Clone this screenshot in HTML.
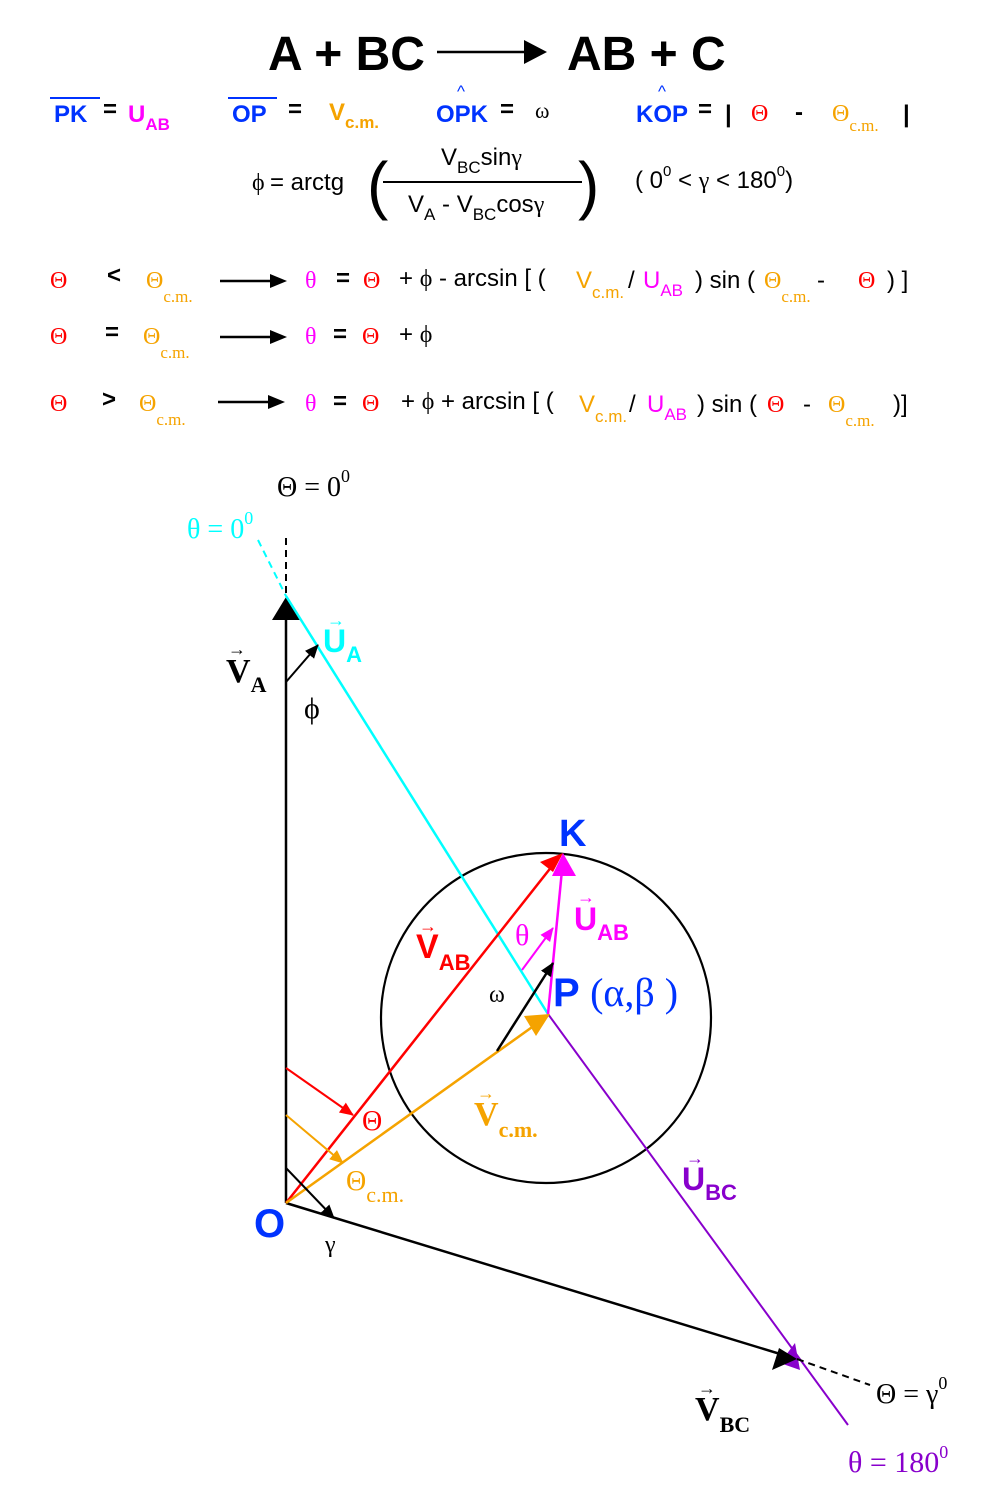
<!DOCTYPE html>
<html><head><meta charset="utf-8"><style>
html,body{margin:0;padding:0;background:#fff}
svg{display:block}
.s{font-family:"Liberation Sans",sans-serif}
.r{font-family:"Liberation Serif",serif}
</style></head><body>
<svg width="1000" height="1492" viewBox="0 0 1000 1492" xmlns="http://www.w3.org/2000/svg">
<defs>
<marker id="ak" markerWidth="10" markerHeight="10" refX="9" refY="5" orient="auto" markerUnits="userSpaceOnUse"><path d="M0,0 L10,5 L0,10 Z" fill="#000"/></marker>
<marker id="ar" markerWidth="14" markerHeight="14" refX="13" refY="7" orient="auto" markerUnits="userSpaceOnUse"><path d="M0,1 L14,7 L0,13 Z" fill="#f00"/></marker>
<marker id="ao" markerWidth="14" markerHeight="14" refX="13" refY="7" orient="auto" markerUnits="userSpaceOnUse"><path d="M0,1 L14,7 L0,13 Z" fill="#f5a300"/></marker>
<marker id="am" markerWidth="14" markerHeight="14" refX="13" refY="7" orient="auto" markerUnits="userSpaceOnUse"><path d="M0,1 L14,7 L0,13 Z" fill="#f0f"/></marker>
<marker id="ab" markerWidth="14" markerHeight="14" refX="13" refY="7" orient="auto" markerUnits="userSpaceOnUse"><path d="M0,1 L14,7 L0,13 Z" fill="#000"/></marker>
</defs>

<!-- title -->
<g class="s" font-weight="bold" font-size="48" fill="#000">
<text x="268" y="70">A + BC</text>
<text x="567" y="70">AB + C</text>
</g>
<line x1="437" y1="52" x2="525" y2="52" stroke="#000" stroke-width="2.5"/>
<path d="M524,40 L547,52 L524,64 Z" fill="#000"/>

<!-- row 1 -->
<g class="s" font-weight="bold" font-size="24">
<line x1="50" y1="98" x2="100" y2="98" stroke="#0033ff" stroke-width="2"/>
<text x="54" y="122" fill="#0033ff">PK</text>
<text x="103" y="117" fill="#000">=</text>
<text x="128" y="122" fill="#f0f">U<tspan font-size="17" dy="8">AB</tspan></text>
<line x1="228" y1="98" x2="277" y2="98" stroke="#0033ff" stroke-width="2"/>
<text x="232" y="122" fill="#0033ff">OP</text>
<text x="288" y="117" fill="#000">=</text>
<text x="329" y="120" fill="#f5a300">V<tspan font-size="17" dy="8">c.m.</tspan></text>
<text x="457" y="97" fill="#0033ff" font-size="17" font-weight="normal">^</text>
<text x="436" y="122" fill="#0033ff">OPK</text>
<text x="500" y="117" fill="#000">=</text>
<text x="658" y="97" fill="#0033ff" font-size="17" font-weight="normal">^</text>
<text x="636" y="122" fill="#0033ff">KOP</text>
<text x="698" y="117" fill="#000">=</text>
<text x="725" y="122" fill="#000">|</text>
<text x="795" y="120" fill="#000">-</text>
<text x="903" y="122" fill="#000">|</text>
</g>
<text class="r" x="535" y="118" font-size="22">ω</text>
<text class="r" x="751" y="121" font-size="24" fill="#f00">Θ</text>
<text class="r" x="832" y="121" font-size="24" fill="#f5a300">Θ<tspan font-size="17" dy="10">c.m.</tspan></text>

<!-- phi formula -->
<text class="r" x="252" y="190" font-size="24">ϕ</text>
<text class="s" x="270" y="190" font-size="24">= arctg</text>
<text class="s" x="367" y="207" font-size="64" font-weight="300">(</text>
<text class="s" x="578" y="207" font-size="64" font-weight="300">)</text>
<line x1="383" y1="182" x2="582" y2="182" stroke="#000" stroke-width="2"/>
<text class="s" x="441" y="165" font-size="24">V<tspan font-size="17" dy="8">BC</tspan><tspan dy="-8">sin</tspan><tspan class="r">γ</tspan></text>
<text class="s" x="408" y="212" font-size="24">V<tspan font-size="17" dy="8">A</tspan><tspan dy="-8"> - V</tspan><tspan font-size="17" dy="8">BC</tspan><tspan dy="-8">cos</tspan><tspan class="r">γ</tspan></text>
<text class="s" x="635" y="188" font-size="24">( 0<tspan font-size="15" dy="-12">0</tspan><tspan dy="12"> &lt; </tspan><tspan class="r">γ</tspan> &lt; 180<tspan font-size="15" dy="-12">0</tspan><tspan dy="12">)</tspan></text>

<!-- conditions -->
<g font-size="24">
<!-- row a -->
<text class="r" x="50" y="288" fill="#f00">Θ</text>
<text class="s" x="107" y="283" font-weight="bold">&lt;</text>
<text class="r" x="146" y="288" fill="#f5a300">Θ<tspan font-size="17" dy="14">c.m.</tspan></text>
<text class="r" x="305" y="288" fill="#f0f">θ</text>
<text class="s" x="336" y="286" font-weight="bold">=</text>
<text class="r" x="363" y="288" fill="#f00">Θ</text>
<text class="s" x="399" y="286">+ <tspan class="r">ϕ</tspan> - arcsin  [ (</text>
<text class="s" x="576" y="288" fill="#f5a300">V<tspan font-size="17" dy="10">c.m.</tspan></text>
<text class="s" x="628" y="288">/</text>
<text class="s" x="643" y="288" fill="#f0f">U<tspan font-size="17" dy="8">AB</tspan></text>
<text class="s" x="695" y="288">) sin (</text>
<text class="r" x="764" y="288" fill="#f5a300">Θ<tspan font-size="17" dy="14">c.m.</tspan></text>
<text class="s" x="817" y="288">-</text>
<text class="r" x="858" y="288" fill="#f00">Θ</text>
<text class="s" x="887" y="288">) ]</text>
<!-- row b -->
<text class="r" x="50" y="344" fill="#f00">Θ</text>
<text class="s" x="105" y="340" font-weight="bold">=</text>
<text class="r" x="143" y="344" fill="#f5a300">Θ<tspan font-size="17" dy="14">c.m.</tspan></text>
<text class="r" x="305" y="344" fill="#f0f">θ</text>
<text class="s" x="333" y="342" font-weight="bold">=</text>
<text class="r" x="362" y="344" fill="#f00">Θ</text>
<text class="s" x="399" y="342">+ <tspan class="r">ϕ</tspan></text>
<!-- row c -->
<text class="r" x="50" y="411" fill="#f00">Θ</text>
<text class="s" x="102" y="407" font-weight="bold">&gt;</text>
<text class="r" x="139" y="411" fill="#f5a300">Θ<tspan font-size="17" dy="14">c.m.</tspan></text>
<text class="r" x="305" y="411" fill="#f0f">θ</text>
<text class="s" x="333" y="409" font-weight="bold">=</text>
<text class="r" x="362" y="411" fill="#f00">Θ</text>
<text class="s" x="401" y="409">+ <tspan class="r">ϕ</tspan> + arcsin  [ (</text>
<text class="s" x="579" y="412" fill="#f5a300">V<tspan font-size="17" dy="10">c.m.</tspan></text>
<text class="s" x="629" y="412">/</text>
<text class="s" x="647" y="412" fill="#f0f">U<tspan font-size="17" dy="8">AB</tspan></text>
<text class="s" x="697" y="412">) sin (</text>
<text class="r" x="767" y="412" fill="#f00">Θ</text>
<text class="s" x="803" y="412">-</text>
<text class="r" x="828" y="412" fill="#f5a300">Θ<tspan font-size="17" dy="14">c.m.</tspan></text>
<text class="s" x="893" y="412">)]</text>
</g>
<g stroke="#000" stroke-width="2.5">
<line x1="220" y1="281" x2="274" y2="281"/><line x1="220" y1="337" x2="274" y2="337"/><line x1="218" y1="402" x2="272" y2="402"/>
</g>
<g fill="#000"><path d="M270,274 L287,281 L270,288 Z"/><path d="M270,330 L287,337 L270,344 Z"/><path d="M268,395 L285,402 L268,409 Z"/></g>

<!-- diagram -->
<circle cx="546" cy="1018" r="165" fill="none" stroke="#000" stroke-width="2.2"/>
<line x1="286" y1="538" x2="286" y2="598" stroke="#000" stroke-width="2" stroke-dasharray="7,5"/>
<line x1="286" y1="1203" x2="286" y2="600" stroke="#000" stroke-width="2.5"/>
<path d="M286,597 L272,620 L300,620 Z" fill="#000"/>
<line x1="258" y1="540" x2="286" y2="596" stroke="#0ff" stroke-width="2" stroke-dasharray="7,5"/>
<line x1="286" y1="596" x2="548" y2="1014" stroke="#0ff" stroke-width="2.5"/>
<line x1="548" y1="1014" x2="848" y2="1425" stroke="#8800cc" stroke-width="2"/>
<path d="M795,1343 L800,1370 L780,1363 Z" fill="#8800cc"/>
<line x1="286" y1="1203" x2="790" y2="1357" stroke="#000" stroke-width="2.5"/>
<path d="M797,1359 L772,1370 L779,1348 Z" fill="#000"/>
<line x1="797" y1="1359" x2="870" y2="1385" stroke="#000" stroke-width="2" stroke-dasharray="7,5"/>
<!-- vectors -->
<line x1="286" y1="1203" x2="560" y2="856" stroke="#f00" stroke-width="2.5"/>
<path d="M563,853 L540,862 L553,872 Z" fill="#f00"/>
<line x1="286" y1="1203" x2="535" y2="1025" stroke="#f5a300" stroke-width="2.5"/>
<path d="M550,1014 L524,1016 L536,1036 Z" fill="#f5a300"/>
<line x1="548" y1="1014" x2="562" y2="870" stroke="#f0f" stroke-width="2.5"/>
<path d="M563,853 L552,876 L576,876 Z" fill="#f0f"/>
<!-- small arrows -->
<line x1="286" y1="682" x2="318" y2="645" stroke="#000" stroke-width="2" marker-end="url(#ab)"/>
<line x1="497" y1="1051" x2="553" y2="963" stroke="#000" stroke-width="2.5" marker-end="url(#ab)"/>
<line x1="522" y1="970" x2="553" y2="928" stroke="#f0f" stroke-width="2" marker-end="url(#am)"/>
<line x1="286" y1="1068" x2="353" y2="1115" stroke="#f00" stroke-width="2" marker-end="url(#ar)"/>
<line x1="286" y1="1115" x2="343" y2="1163" stroke="#f5a300" stroke-width="2" marker-end="url(#ao)"/>
<line x1="286" y1="1168" x2="334" y2="1218" stroke="#000" stroke-width="2" marker-end="url(#ab)"/>

<!-- diagram labels -->
<text class="r" x="277" y="496" font-size="28">Θ = 0<tspan font-size="18" dy="-14">0</tspan></text>
<text class="r" x="187" y="538" font-size="28" fill="#0ff">θ = 0<tspan font-size="18" dy="-14">0</tspan></text>
<text class="s" x="323" y="652" font-size="32" font-weight="bold" fill="#0ff">U<tspan font-size="22" dy="10">A</tspan></text>
<text class="s" x="327" y="626" font-size="18" fill="#0ff">→</text>
<text class="r" x="226" y="682" font-size="34" font-weight="bold">V<tspan font-size="22" dy="10">A</tspan></text>
<text class="r" x="228" y="655" font-size="18">→</text>
<text class="r" x="304" y="718" font-size="30">ϕ</text>
<text class="s" x="559" y="846" font-size="38" font-weight="bold" fill="#0033ff">K</text>
<text class="s" x="574" y="930" font-size="32" font-weight="bold" fill="#f0f">U<tspan font-size="22" dy="10">AB</tspan></text>
<text class="s" x="577" y="903" font-size="18" fill="#f0f">→</text>
<text class="r" x="515" y="945" font-size="30" fill="#f0f">θ</text>
<text class="s" x="416" y="958" font-size="34" font-weight="bold" fill="#f00">V<tspan font-size="22" dy="12">AB</tspan></text>
<text class="s" x="419" y="932" font-size="18" fill="#f00">→</text>
<text class="r" x="489" y="1002" font-size="24">ω</text>
<text class="s" x="553" y="1006" font-size="40" font-weight="bold" fill="#0033ff">P <tspan class="r" font-weight="normal">(α,β )</tspan></text>
<text class="r" x="474" y="1125" font-size="34" font-weight="bold" fill="#f5a300">V<tspan font-size="22" dy="12">c.m.</tspan></text>
<text class="r" x="477" y="1099" font-size="18" fill="#f5a300">→</text>
<text class="r" x="362" y="1130" font-size="28" fill="#f00">Θ</text>
<text class="r" x="346" y="1190" font-size="28" fill="#f5a300">Θ<tspan font-size="22" dy="12">c.m.</tspan></text>
<text class="s" x="254" y="1237" font-size="40" font-weight="bold" fill="#0033ff">O</text>
<text class="r" x="325" y="1252" font-size="24">γ</text>
<text class="s" x="682" y="1190" font-size="32" font-weight="bold" fill="#8800cc">U<tspan font-size="22" dy="10">BC</tspan></text>
<text class="s" x="686" y="1164" font-size="18" fill="#8800cc">→</text>
<text class="r" x="695" y="1420" font-size="34" font-weight="bold">V<tspan font-size="22" dy="12">BC</tspan></text>
<text class="r" x="698" y="1394" font-size="18">→</text>
<text class="r" x="876" y="1403" font-size="28">Θ = γ<tspan font-size="18" dy="-14">0</tspan></text>
<text class="r" x="848" y="1472" font-size="30" fill="#8800cc">θ = 180<tspan font-size="18" dy="-14">0</tspan></text>
</svg>
</body></html>
